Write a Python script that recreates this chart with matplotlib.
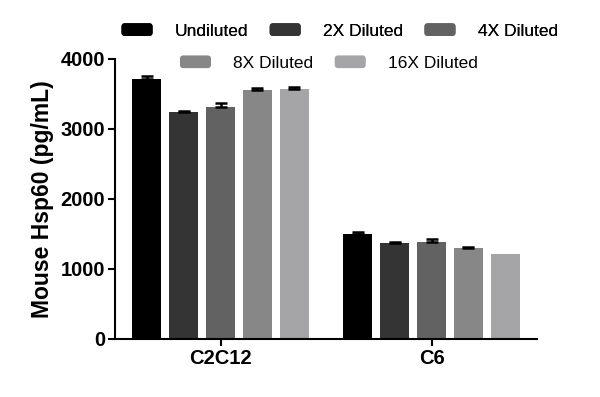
import matplotlib
matplotlib.use('Agg')
import matplotlib.pyplot as plt
import numpy as np
from matplotlib.patches import FancyBboxPatch
from matplotlib.legend_handler import HandlerPatch

plt.rcParams['font.family'] = ['Liberation Sans', 'DejaVu Sans']

# ── data ────────────────────────────────────────────────────────────
groups = ['C2C12', 'C6']
series = ['Undiluted', '2X Diluted', '4X Diluted', '8X Diluted', '16X Diluted']
means = {
    'Undiluted':   [3710, 1500],
    '2X Diluted':  [3245, 1370],
    '4X Diluted':  [3310, 1390],
    '8X Diluted':  [3555, 1300],
    '16X Diluted': [3575, 1220],
}
errs = {
    'Undiluted':   [50, 30],
    '2X Diluted':  [12, 20],
    '4X Diluted':  [55, 40],
    '8X Diluted':  [35, 10],
    '16X Diluted': [20, 0],
}
colors = ['#000000', '#343434', '#626262', '#878787', '#a5a5a8']


class RoundHandler(HandlerPatch):
    def create_artists(self, legend, orig_handle, xdescent, ydescent,
                       width, height, fontsize, trans):
        p = FancyBboxPatch((-xdescent + 1, -ydescent), width - 2, height,
                           boxstyle='round,pad=0,rounding_size=2.5',
                           facecolor=orig_handle.get_facecolor(),
                           edgecolor='none', transform=trans)
        return [p]


fig = plt.figure(figsize=(6.0, 3.97), dpi=100)
ax = fig.add_axes((0.1917, 0.1461, 0.7033, 0.7053))

x = np.arange(len(groups))
step = 0.175
width = 0.137
handles = []
for i, (name, col) in enumerate(zip(series, colors)):
    pos = x + (i - 2) * step
    vals = np.array(means[name])
    e = np.array(errs[name])
    bars = ax.bar(pos, vals, width=width, color=col, edgecolor='none', zorder=2)
    keep = e > 0   # no whisker where the SD is zero
    ax.errorbar(pos[keep], vals[keep], yerr=[np.zeros(keep.sum()), e[keep]],
                fmt='none', ecolor='black', elinewidth=1.8, capsize=4.5,
                capthick=1.8, zorder=3)
    handles.append(bars.patches[0])

ax.set_xlim(-0.5, 1.5)
ax.set_ylim(0, 4000)
ax.set_yticks([0, 1000, 2000, 3000, 4000])
ax.set_xticks(x)
ax.set_xticklabels(groups)
for s in ['top', 'right']:
    ax.spines[s].set_visible(False)
for s in ['left', 'bottom']:
    ax.spines[s].set_linewidth(1.5)
ax.tick_params(axis='both', width=1.5, length=5, labelsize=14.5, pad=2)
for lab in ax.get_xticklabels() + ax.get_yticklabels():
    lab.set_fontweight('bold')
ax.set_ylabel('Mouse Hsp60 (pg/mL)', fontsize=16.5, fontweight='bold', labelpad=5)

# legend in two centred rows
kw = dict(frameon=False, fontsize=12.5, handlelength=1.95, handleheight=0.75,
          handletextpad=1.2, columnspacing=1.15, borderpad=0,
          handler_map={type(handles[0]): RoundHandler()})
leg1 = fig.legend(handles[:3], series[:3], ncol=3, loc='center',
                  bbox_to_anchor=(0.565, 0.922), **kw)
fig.add_artist(leg1)
fig.legend(handles[3:], series[3:], ncol=2, loc='center',
           bbox_to_anchor=(0.547, 0.841), **kw)

fig.savefig('out.png', dpi=100)
